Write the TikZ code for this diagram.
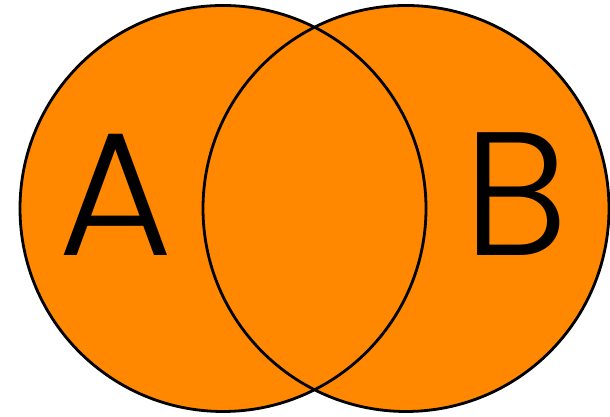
\documentclass[tikz,border=0pt]{standalone}
\usepackage{fontspec}
\setmainfont{Poppins}[UprightFont=* Light]
\definecolor{setorange}{RGB}{255,136,0}
\begin{document}
\begin{tikzpicture}
  		\def\radiusSet{2.03}
  		\useasboundingbox (0,0) rectangle (6.10,4.17);
  		\fill[setorange] (2.23,2.085) circle (\radiusSet);
  		\fill[setorange] (4.06,2.085) circle (\radiusSet);
  		\draw[line width=0.8pt] (2.23,2.085) circle (\radiusSet);
  		\draw[line width=0.8pt] (4.06,2.085) circle (\radiusSet);
  		\node[font=\fontsize{50}{50}\selectfont] (labelA) at (1.16,2.225) {A};
  		\node[font=\fontsize{50}{50}\selectfont] (labelB) at (5.16,2.225) {B};
  	\end{tikzpicture}
\end{document}
